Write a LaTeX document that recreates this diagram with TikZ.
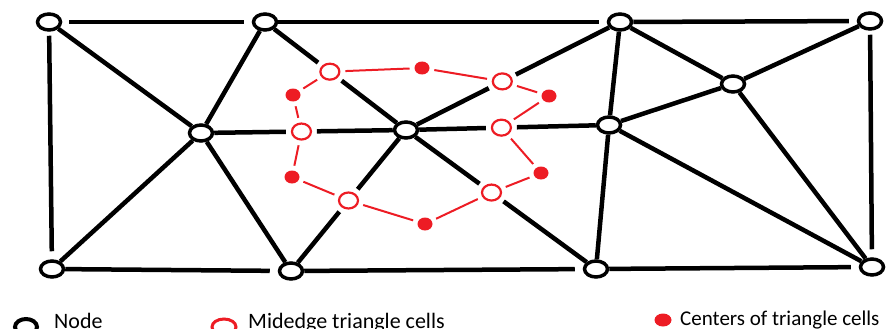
\documentclass[tikz,border=0pt]{standalone}
\usepackage{fontspec}
\setmainfont{Carlito}
\usetikzlibrary{shapes,arrows,calc,positioning,backgrounds}
\definecolor{paintred}{RGB}{237,28,36}

\begin{document}
\begin{tikzpicture}[x=1pt,y=-1pt,
        vertex/.style={ellipse,draw,line width=3.5pt,fill=white,minimum width=23pt,minimum height=16pt,inner sep=0pt},
        midedge/.style={ellipse,draw=paintred,line width=2.2pt,fill=white,minimum width=19pt,minimum height=16pt,inner sep=0pt,outer sep=6pt},
        cellcenter/.style={ellipse,fill=paintred,minimum width=15pt,minimum height=13pt,inner sep=0pt,outer sep=5pt},
        link/.style={line width=4.5pt},
        rim/.style={link,shorten >=8pt},
        redlink/.style={draw=paintred,line width=2pt},
        keytext/.style={anchor=base west,inner sep=0pt,font=\fontsize{21}{25}\selectfont}]
        \useasboundingbox (0,0) rectangle (891,329);

        % nodes
        \node[vertex] (A) at (49,22) {};
        \node[vertex] (B) at (265,22) {};
        \node[vertex] (C) at (620,22) {};
        \node[vertex] (D) at (870,21) {};
        \node[vertex] (E) at (201,133) {};
        \node[vertex] (F) at (406,130) {};
        \node[vertex] (G) at (609,125) {};
        \node[vertex] (H) at (733,84) {};
        \node[vertex] (I) at (52,269) {};
        \node[vertex] (J) at (291,271) {};
        \node[vertex] (K) at (596,269) {};
        \node[vertex] (L) at (872,267) {};

        % midedges of the cells round F
        \node[midedge] (m1) at ($(B)!0.46!(F)$) {};
        \node[midedge] (m2) at ($(F)!0.45!(C)$) {};
        \node[midedge] (m3) at ($(E)!0.49!(F)$) {};
        \node[midedge] (m4) at ($(F)!0.47!(G)$) {};
        \node[midedge] (m5) at ($(F)!0.5!(J)$) {};
        \node[midedge] (m6) at ($(F)!0.45!(K)$) {};

        % centers of the cells
        \node[cellcenter] (c1) at (422,68) {};
        \node[cellcenter] (c2) at (549,96) {};
        \node[cellcenter] (c3) at (293,95) {};
        \node[cellcenter] (c4) at (541,173) {};
        \node[cellcenter] (c5) at (292,177) {};
        \node[cellcenter] (c6) at (425,224) {};

        % outer frame
        \draw[rim, shorten <=7pt] (A) -- (B);
        \draw[rim] (B) -- (C);
        \draw[rim] (C) -- (D);
        \draw[rim] (I) -- (J);
        \draw[rim] (J) -- (K);
        \draw[rim] (K) -- (L);
        \draw[rim, shorten <=4pt] (A) -- (I);
        \draw[rim, shorten <=4pt] (D) -- (L);

        % inner edges
        \draw[link] (A) -- (E);
        \draw[link] (E) -- (I);
        \draw[link] (B) -- (E);
        \draw[link] (E) -- (J);
        \draw[link] (E) -- (m3) -- (F);
        \draw[link] (B) -- (m1) -- (F);
        \draw[link] (F) -- (m5) -- (J);
        \draw[link] (F) -- (m2) -- (C);
        \draw[link] (F) -- (m4) -- (G);
        \draw[link] (F) -- (m6) -- (K);
        \draw[link] (C) -- (G);
        \draw[link] (G) -- (K);
        \draw[link] (G) -- (H);
        \draw[link] (C) -- (H);
        \draw[link] (H) -- (D);
        \draw[link] (H) -- (L);
        \draw[link] (G) -- (L);

        % dual cell
        \draw[redlink] (c3) -- (m1) -- (c1) -- (m2) -- (c2) -- (m4) -- (c4) -- (m6) -- (c6) -- (m5) -- (c5) -- (m3) -- (c3);

        % legend
        \node[vertex, line width=4pt, minimum width=22pt] (keynode) at (26,327) {};
        \node[keytext, font=\fontsize{22}{26}\selectfont] (keynodetext) at (54,328) {Node};
        \node[midedge, line width=3pt, minimum width=24pt] (keymid) at (224,327) {};
        \node[keytext, font=\fontsize{22}{26}\selectfont] (keymidtext) at (248,328) {Midedge triangle cells};
        \node[cellcenter, minimum width=17pt] (keycenter) at (663,320) {};
        \node[keytext] (keycentertext) at (680,325) {Centers of triangle cells};

        \end{tikzpicture}
\end{document}
